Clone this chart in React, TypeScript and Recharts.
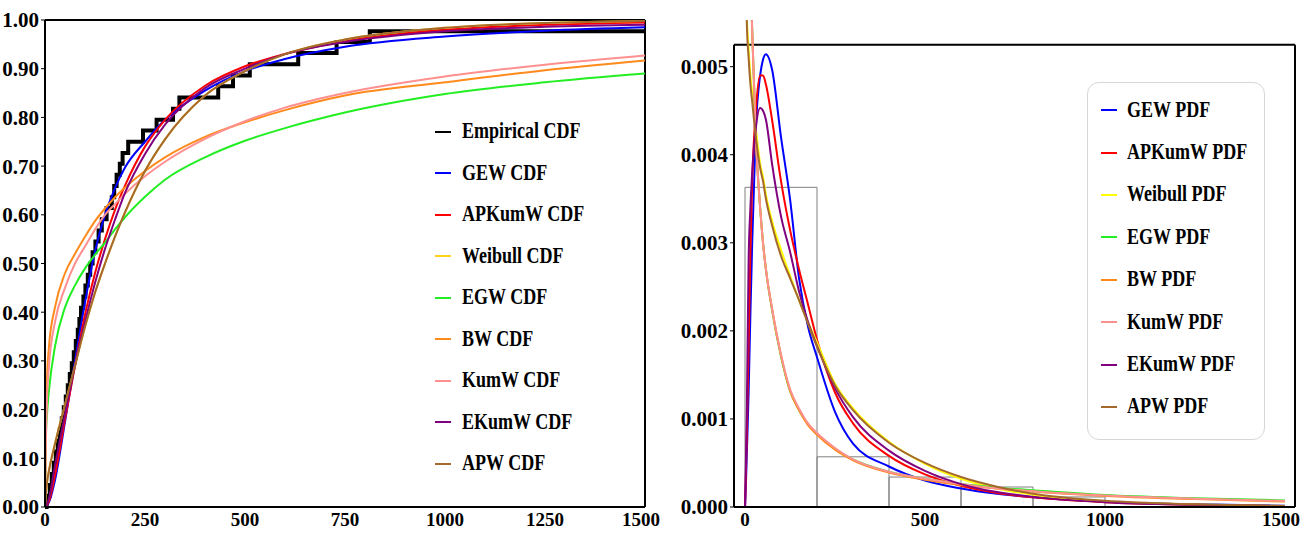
import React from 'react';
import {
  LineChart,
  ComposedChart,
  Line,
  XAxis,
  YAxis,
  ReferenceLine,
  ReferenceArea,
  Legend,
} from 'recharts';

const FONT = "'Liberation Serif', 'Times New Roman', serif";

// ---------- left panel: CDFs ----------
const cdfX = [0, 2, 5, 10, 25, 50, 75, 100, 125, 150, 175, 200, 250, 300, 400, 500, 600, 750, 1000, 1250, 1500];
const gewCdf = [0, 0.001, 0.003, 0.01, 0.055, 0.175, 0.3, 0.42, 0.525, 0.6, 0.655, 0.697, 0.75, 0.795, 0.855, 0.895, 0.92, 0.945, 0.966, 0.978, 0.985];
const apkumwCdf = [0, 0.001, 0.004, 0.012, 0.065, 0.18, 0.29, 0.395, 0.48, 0.55, 0.61, 0.66, 0.74, 0.795, 0.865, 0.905, 0.93, 0.957, 0.98, 0.99, 0.995];
const weibullCdf = [0, 0.025, 0.05, 0.075, 0.13, 0.21, 0.29, 0.37, 0.44, 0.5, 0.555, 0.605, 0.69, 0.755, 0.845, 0.895, 0.93, 0.96, 0.984, 0.994, 0.998];
const egwCdf = [0, 0.14, 0.19, 0.24, 0.33, 0.41, 0.455, 0.49, 0.518, 0.543, 0.57, 0.595, 0.637, 0.672, 0.718, 0.752, 0.778, 0.81, 0.848, 0.872, 0.89];
const bwCdf = [0, 0.15, 0.26, 0.33, 0.41, 0.48, 0.52, 0.555, 0.587, 0.613, 0.636, 0.656, 0.69, 0.718, 0.76, 0.79, 0.815, 0.845, 0.872, 0.897, 0.917];
const kumwCdf = [0, 0.12, 0.22, 0.29, 0.38, 0.45, 0.5, 0.535, 0.57, 0.6, 0.622, 0.643, 0.679, 0.709, 0.756, 0.792, 0.82, 0.85, 0.884, 0.908, 0.927];
const ekumwCdf = [0, 0.002, 0.006, 0.018, 0.085, 0.19, 0.29, 0.38, 0.46, 0.53, 0.59, 0.645, 0.725, 0.785, 0.86, 0.9, 0.93, 0.955, 0.977, 0.986, 0.99];
const apwCdf = [0, 0.025, 0.05, 0.075, 0.13, 0.21, 0.29, 0.37, 0.44, 0.5, 0.555, 0.605, 0.69, 0.755, 0.845, 0.895, 0.93, 0.96, 0.984, 0.994, 0.998];

// empirical CDF jump points
const ecdfX = [0, 4, 12, 17, 22, 27, 32, 37, 42, 47, 52, 57, 62, 67, 72, 77, 82, 86, 90, 96, 101, 107, 113, 119, 126, 134, 142, 154, 167, 173, 179, 187, 194, 208, 245, 279, 320, 336, 433, 470, 512, 633, 729, 812, 1500];
const ecdfY = [0, 0.023, 0.045, 0.068, 0.091, 0.114, 0.136, 0.159, 0.182, 0.205, 0.227, 0.25, 0.273, 0.295, 0.318, 0.341, 0.364, 0.386, 0.409, 0.432, 0.455, 0.477, 0.5, 0.523, 0.545, 0.568, 0.591, 0.614, 0.636, 0.659, 0.682, 0.705, 0.727, 0.75, 0.773, 0.795, 0.818, 0.841, 0.864, 0.886, 0.909, 0.932, 0.955, 0.977, 0.977];

const cdfXTicks = [0, 250, 500, 750, 1000, 1250, 1500];
const cdfYTicks = [0, 0.1, 0.2, 0.3, 0.4, 0.5, 0.6, 0.7, 0.8, 0.9, 1];
const cdfLegendOrder = ['Empirical CDF', 'GEW CDF', 'APKumW CDF', 'Weibull CDF', 'EGW CDF', 'BW CDF', 'KumW CDF', 'EKumW CDF', 'APW CDF'];

// ---------- right panel: PDFs ----------
const pdfX = [0, 2, 5, 10, 15, 20, 30, 42, 50, 58, 75, 100, 125, 150, 175, 200, 250, 300, 400, 500, 600, 700, 800, 1000, 1250, 1500];
const gewPdf = [0, 0.0002, 0.0006, 0.0013, 0.0022, 0.003, 0.0043, 0.0049, 0.00508, 0.00514, 0.00497, 0.0042, 0.0035, 0.0026, 0.00205, 0.0017, 0.00108, 0.00072, 0.00046, 0.0003, 0.00021, 0.00015, 0.00011, 0.00006, 0.00003, 0.000015];
const apkumwPdf = [0, 0.0003, 0.0008, 0.0018, 0.0029, 0.0037, 0.0045, 0.0049, 0.0049, 0.0048, 0.0044, 0.0037, 0.00315, 0.0027, 0.0023, 0.0019, 0.0013, 0.00095, 0.00058, 0.00037, 0.00024, 0.00016, 0.00011, 0.000055, 0.000025, 0.00001];
const weibullPdf = [null, 0.0065, 0.0056, 0.0052, 0.0049, 0.0047, 0.0043, 0.0039, 0.00375, 0.00355, 0.00325, 0.00292, 0.00263, 0.00235, 0.0021, 0.00187, 0.0014, 0.00112, 0.00074, 0.00049, 0.00032, 0.00021, 0.00014, 0.000065, 0.000028, 0.00001];
const egwPdf = [null, 0.0155, 0.0097, 0.0076, 0.0062, 0.0054, 0.0042, 0.0034, 0.003, 0.0027, 0.00224, 0.00171, 0.00132, 0.0011, 0.00094, 0.00083, 0.00066, 0.00054, 0.0004, 0.00032, 0.00026, 0.00022, 0.00019, 0.000135, 0.0001, 0.000075];
const bwPdf = [null, 0.015, 0.0095, 0.0075, 0.0062, 0.0054, 0.0042, 0.0034, 0.003, 0.0027, 0.00225, 0.00172, 0.00132, 0.0011, 0.00093, 0.00082, 0.00065, 0.00053, 0.00039, 0.00031, 0.00025, 0.00021, 0.000175, 0.000125, 0.00009, 0.000062];
const kumwPdf = [null, 0.0145, 0.0093, 0.0074, 0.0062, 0.0054, 0.0042, 0.0034, 0.003, 0.0027, 0.00226, 0.00173, 0.00134, 0.00112, 0.00095, 0.00084, 0.00067, 0.00054, 0.0004, 0.00032, 0.00026, 0.00021, 0.00018, 0.00013, 0.000095, 0.000068];
const ekumwPdf = [0, 0.0004, 0.0011, 0.0028, 0.0034, 0.0038, 0.0043, 0.00453, 0.0045, 0.0044, 0.0039, 0.0033, 0.0029, 0.00245, 0.0021, 0.00183, 0.00135, 0.00102, 0.00064, 0.00041, 0.00026, 0.00017, 0.000115, 0.000055, 0.000025, 0.00001];
const apwPdf = [null, 0.0064, 0.0055, 0.0051, 0.0048, 0.0046, 0.0042, 0.00385, 0.0037, 0.0035, 0.0032, 0.00285, 0.0026, 0.00235, 0.00208, 0.00182, 0.00138, 0.0011, 0.00073, 0.0005, 0.00034, 0.00023, 0.00015, 0.00007, 0.00003, 0.000012];

// histogram bins (density)
const histStart = [0, 200, 400, 600, 800];
const histEnd = [200, 400, 600, 800, 1000];
const histDensity = [0.00363, 0.00057, 0.00034, 0.000227, 0.000114];

const pdfXTicks = [0, 500, 1000, 1500];
const pdfYTicks = [0, 0.001, 0.002, 0.003, 0.004, 0.005];
const pdfLegendOrder = ['GEW PDF', 'APKumW PDF', 'Weibull PDF', 'EGW PDF', 'BW PDF', 'KumW PDF', 'EKumW PDF', 'APW PDF'];
const pdfFrameTop = 0.00525;
const pdfXMin = -30.6;
const pdfXMax = 1527.8;

const cdfRows = cdfX.map((x, i) => ({
  x,
  gew: gewCdf[i],
  apkumw: apkumwCdf[i],
  weibull: weibullCdf[i],
  egw: egwCdf[i],
  bw: bwCdf[i],
  kumw: kumwCdf[i],
  ekumw: ekumwCdf[i],
  apw: apwCdf[i],
}));
const ecdfRows = ecdfX.map((x, i) => ({ x, emp: ecdfY[i] }));

const pdfRows = pdfX.map((x, i) => ({
  x,
  gew: gewPdf[i],
  apkumw: apkumwPdf[i],
  weibull: weibullPdf[i],
  egw: egwPdf[i],
  bw: bwPdf[i],
  kumw: kumwPdf[i],
  ekumw: ekumwPdf[i],
  apw: apwPdf[i],
}));

const yTickStyle = { fill: '#000', fontSize: 21, fontWeight: 'bold', fontFamily: FONT };
const xTickStyle = { fill: '#000', fontSize: 19, fontWeight: 'bold', fontFamily: FONT };

function LegendRows({ payload, order, rowH, iconW, iconLeft, textGap }: any) {
  const items = [...(payload || [])].sort((a: any, b: any) => order.indexOf(a.value) - order.indexOf(b.value));
  return (
    <div>
      {items.map((p: any) => (
        <div key={p.value} style={{ display: 'flex', alignItems: 'center', height: rowH }}>
          <div style={{ width: iconW, height: 2, background: p.color, marginLeft: iconLeft, marginRight: textGap }} />
          <span
            style={{
              display: 'inline-block',
              transform: 'scaleY(1.25)',
              fontFamily: FONT,
              fontWeight: 'bold',
              fontSize: 18,
              color: '#000',
              whiteSpace: 'nowrap',
            }}
          >
            {p.value}
          </span>
        </div>
      ))}
    </div>
  );
}

function CdfPanel() {
  return (
    <LineChart width={660} height={533} margin={{ top: 20, right: 15, bottom: 0, left: 0 }}>
      <XAxis
        dataKey="x"
        type="number"
        domain={[0, 1500]}
        ticks={cdfXTicks}
        tick={xTickStyle}
        tickLine={false}
        tickSize={3}
        tickMargin={3}
        height={26}
        axisLine={{ stroke: '#000', strokeWidth: 2 }}
      />
      <YAxis
        type="number"
        domain={[0, 1]}
        ticks={cdfYTicks}
        tickFormatter={(v: number) => v.toFixed(2)}
        tick={yTickStyle}
        tickSize={4}
        tickMargin={2}
        width={45}
        axisLine={{ stroke: '#000', strokeWidth: 2 }}
        tickLine={{ stroke: '#000' }}
      />
      <ReferenceLine y={1} stroke="#000" strokeWidth={2} />
      <ReferenceLine x={1500} stroke="#000" strokeWidth={2} />
      <Line data={ecdfRows} dataKey="emp" name="Empirical CDF" type="stepAfter" stroke="#000" strokeWidth={4} dot={false} isAnimationActive={false} />
      <Line data={cdfRows} dataKey="gew" name="GEW CDF" type="monotone" stroke="#0000ff" strokeWidth={2} dot={false} isAnimationActive={false} />
      <Line data={cdfRows} dataKey="apkumw" name="APKumW CDF" type="monotone" stroke="#ff0000" strokeWidth={2} dot={false} isAnimationActive={false} />
      <Line data={cdfRows} dataKey="weibull" name="Weibull CDF" type="monotone" stroke="#ffd21a" strokeWidth={2} dot={false} isAnimationActive={false} />
      <Line data={cdfRows} dataKey="egw" name="EGW CDF" type="monotone" stroke="#22ee22" strokeWidth={2} dot={false} isAnimationActive={false} />
      <Line data={cdfRows} dataKey="bw" name="BW CDF" type="monotone" stroke="#ff8a1c" strokeWidth={2} dot={false} isAnimationActive={false} />
      <Line data={cdfRows} dataKey="kumw" name="KumW CDF" type="monotone" stroke="#ff9090" strokeWidth={2} dot={false} isAnimationActive={false} />
      <Line data={cdfRows} dataKey="ekumw" name="EKumW CDF" type="monotone" stroke="#800080" strokeWidth={2} dot={false} isAnimationActive={false} />
      <Line data={cdfRows} dataKey="apw" name="APW CDF" type="monotone" stroke="#a5692e" strokeWidth={2} dot={false} isAnimationActive={false} />
      <Legend
        layout="vertical"
        align="center"
        verticalAlign="middle"
        wrapperStyle={{ left: 430, top: 111, width: 180 }}
        content={(props: any) => (
          <LegendRows payload={props.payload} order={cdfLegendOrder} rowH={41.5} iconW={16} iconLeft={5} textGap={11} />
        )}
      />
    </LineChart>
  );
}

function PdfPanel() {
  return (
    <ComposedChart width={640} height={533} margin={{ top: 20, right: 5, bottom: 0, left: 14 }}>
      <XAxis
        dataKey="x"
        type="number"
        domain={[pdfXMin, pdfXMax]}
        allowDataOverflow
        ticks={pdfXTicks}
        tick={xTickStyle}
        tickLine={false}
        tickSize={3}
        tickMargin={3}
        height={26}
        axisLine={{ stroke: '#000', strokeWidth: 2 }}
      />
      <YAxis
        type="number"
        domain={[0, 0.00553]}
        allowDataOverflow
        ticks={pdfYTicks}
        tickFormatter={(v: number) => v.toFixed(3)}
        tick={yTickStyle}
        tickSize={4}
        tickMargin={2}
        width={60}
        axisLine={false}
        tickLine={{ stroke: '#000' }}
      />
      <ReferenceLine segment={[{ x: pdfXMin, y: 0 }, { x: pdfXMin, y: pdfFrameTop }]} stroke="#000" strokeWidth={2} />
      <ReferenceLine segment={[{ x: pdfXMin, y: pdfFrameTop }, { x: pdfXMax, y: pdfFrameTop }]} stroke="#000" strokeWidth={2} />
      <ReferenceLine segment={[{ x: pdfXMax, y: 0 }, { x: pdfXMax, y: pdfFrameTop }]} stroke="#000" strokeWidth={2} />
      {histStart.map((s, i) => (
        <ReferenceArea key={s} x1={s} x2={histEnd[i]} y1={0} y2={histDensity[i]} fill="none" stroke="#808080" strokeWidth={1} />
      ))}
      <Line data={pdfRows} dataKey="gew" name="GEW PDF" type="monotone" stroke="#0000ff" strokeWidth={2} dot={false} isAnimationActive={false} />
      <Line data={pdfRows} dataKey="apkumw" name="APKumW PDF" type="monotone" stroke="#ff0000" strokeWidth={2} dot={false} isAnimationActive={false} />
      <Line data={pdfRows} dataKey="weibull" name="Weibull PDF" type="monotone" stroke="#ffff00" strokeWidth={2} dot={false} isAnimationActive={false} />
      <Line data={pdfRows} dataKey="egw" name="EGW PDF" type="monotone" stroke="#22ee22" strokeWidth={2} dot={false} isAnimationActive={false} />
      <Line data={pdfRows} dataKey="bw" name="BW PDF" type="monotone" stroke="#ff8a1c" strokeWidth={2} dot={false} isAnimationActive={false} />
      <Line data={pdfRows} dataKey="kumw" name="KumW PDF" type="monotone" stroke="#ff9090" strokeWidth={2} dot={false} isAnimationActive={false} />
      <Line data={pdfRows} dataKey="ekumw" name="EKumW PDF" type="monotone" stroke="#800080" strokeWidth={2} dot={false} isAnimationActive={false} />
      <Line data={pdfRows} dataKey="apw" name="APW PDF" type="monotone" stroke="#a5692e" strokeWidth={2} dot={false} isAnimationActive={false} />
      <Legend
        layout="vertical"
        align="center"
        verticalAlign="middle"
        wrapperStyle={{
          left: 427,
          top: 82,
          width: 178,
          height: 358,
          border: '1px solid #d6d6d6',
          borderRadius: 12,
          boxSizing: 'border-box',
          paddingTop: 6,
          background: '#fff',
        }}
        content={(props: any) => (
          <LegendRows payload={props.payload} order={pdfLegendOrder} rowH={42.4} iconW={16} iconLeft={13} textGap={10} />
        )}
      />
    </ComposedChart>
  );
}

export default function App() {
  return (
    <div style={{ position: 'absolute', left: 0, top: 0, width: 1300, height: 533, background: '#fff' }}>
      <div style={{ position: 'absolute', left: 0, top: 0 }}>
        <CdfPanel />
      </div>
      <div style={{ position: 'absolute', left: 660, top: 0 }}>
        <PdfPanel />
      </div>
    </div>
  );
}
